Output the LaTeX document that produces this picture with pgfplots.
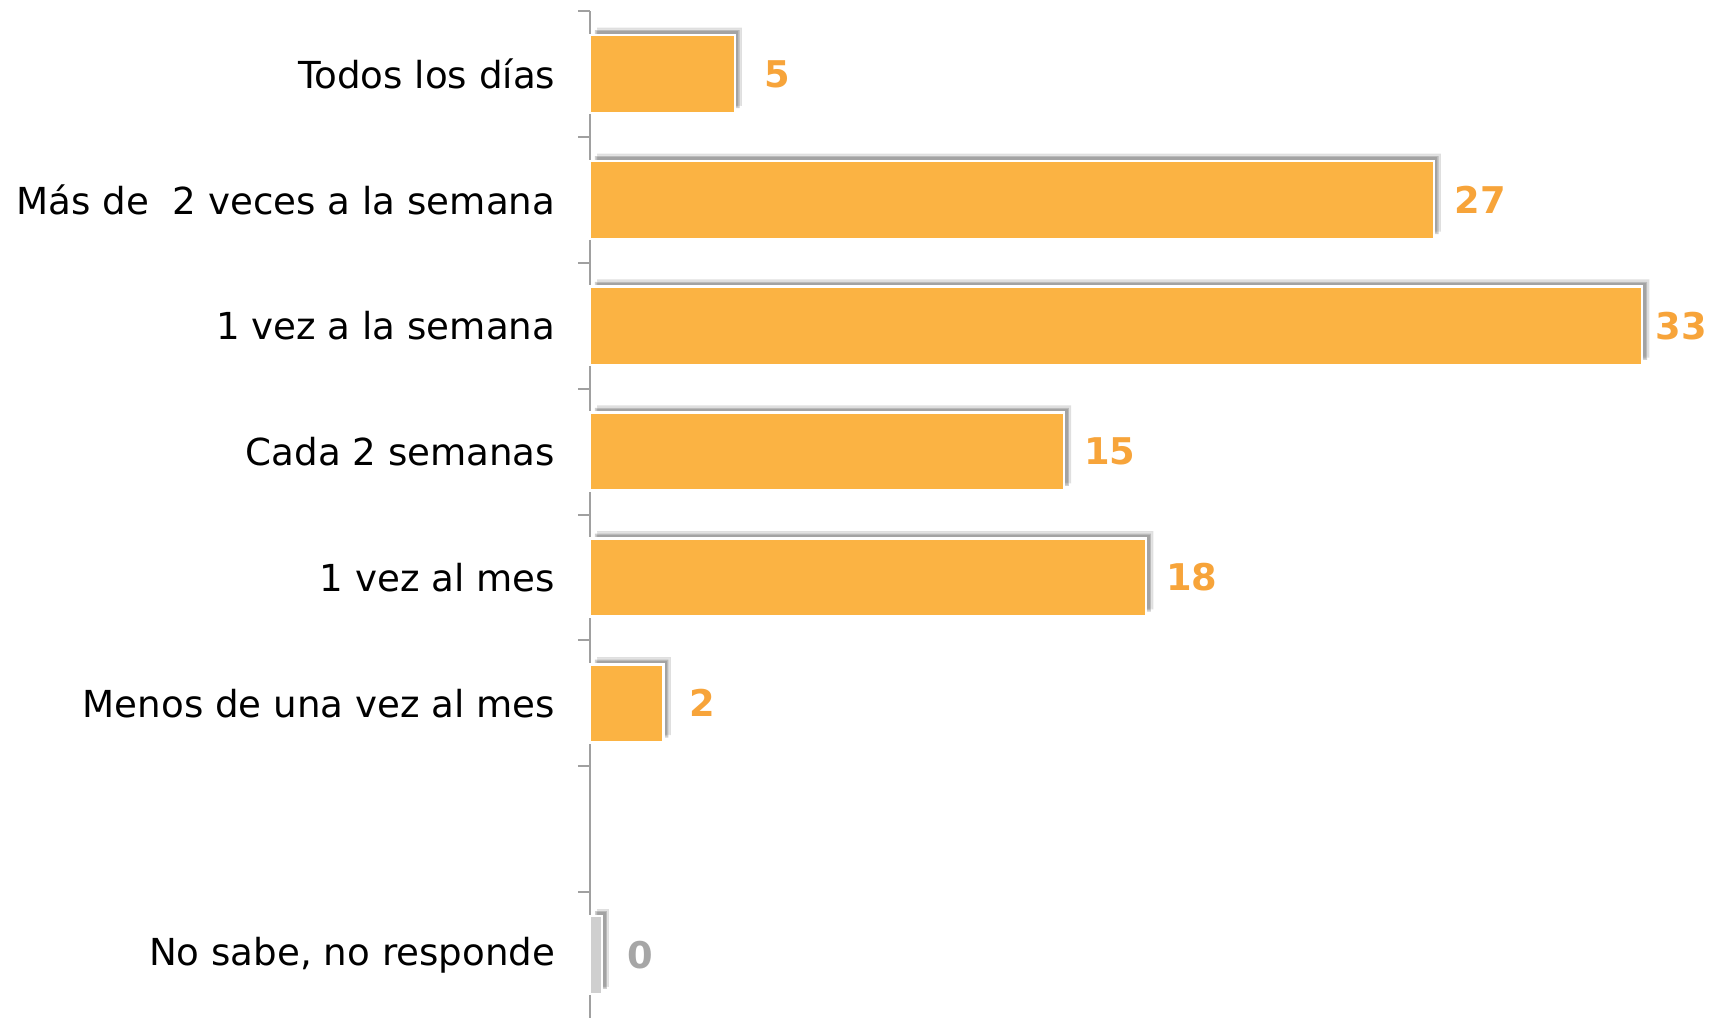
\documentclass[border=0pt]{standalone}
\usepackage{pgfplots}
\pgfplotsset{compat=1.18}
\usepackage{pgfplotstable}
\usepackage{fontspec}
\setmainfont{DejaVu Sans}
\usetikzlibrary{shadows}

\definecolor{barorange}{HTML}{FBB343}
\definecolor{lblorange}{HTML}{F7A43A}
\definecolor{bargray}{HTML}{CFCFCF}
\definecolor{lblgray}{HTML}{A6A6A6}
\definecolor{axisgray}{HTML}{A0A0A0}

% y slot, value (percent), label gap in pt
\pgfplotstableread{
y x dx
0 4.58 7.2
1 26.7 5.0
2 33.3 3.0
3 15.0 4.7
4 17.6 4.7
5 2.33 6.1
}\freqdata

\pgfplotstableread{
y x dx
7 0.38 6.1
}\nsdata

\tikzset{softshadow/.style={
  drop shadow={shadow xshift=1.8pt, shadow yshift=1.8pt, opacity=0.15, fill=black},
  drop shadow={shadow xshift=1.2pt, shadow yshift=1.2pt, opacity=0.25, fill=black}}}

\begin{document}
\begin{tikzpicture}
\begin{axis}[
    at={(0,0)}, anchor=south west,
    scale only axis,
    width=282.5pt,
    height=251.75pt,
    xbar,
    bar width=0.62,
    bar shift=0pt,
    xmin=0, xmax=35.76,
    ymin=-0.5, ymax=7.5,
    y dir=reverse,
    axis x line=none,
    axis y line*=left,
    y axis line style={axisgray, line width=0.5pt},
    ytick={0,1,2,3,4,5,7},
    yticklabels={Todos los días, Más de\ \ 2 veces a la semana, 1 vez a la semana,
      Cada 2 semanas, 1 vez al mes, Menos de una vez al mes, {No sabe, no responde}},
    minor ytick={-0.5,0.5,...,6.5},
    major tick length=0pt,
    minor tick length=3pt,
    tick align=outside,
    tick style={axisgray, line width=0.5pt},
    yticklabel style={inner sep=0pt, xshift=-8.5pt, font=\fontsize{9.3}{11}\selectfont},
    clip=false,
    nodes near coords={\pgfmathprintnumber[fixed,precision=0,assume math mode=true]{\pgfplotspointmeta}},
    visualization depends on={\thisrow{dx} \as \dx},
    every node near coord/.append style={anchor=west, inner sep=0pt, xshift=\dx pt,
      font=\fontsize{9.2}{11}\selectfont\bfseries},
]
\addplot[fill=barorange, draw=white, line width=0.6pt, softshadow,
  nodes near coords style={text=lblorange}]
  table[x=x, y=y] {\freqdata};
\addplot[fill=bargray, draw=white, line width=0.6pt, softshadow,
  nodes near coords style={text=lblgray}]
  table[x=x, y=y] {\nsdata};
\end{axis}
\pgfresetboundingbox
\path (-147.5pt,0pt) rectangle (282.5pt,254.5pt);
\end{tikzpicture}
\end{document}
